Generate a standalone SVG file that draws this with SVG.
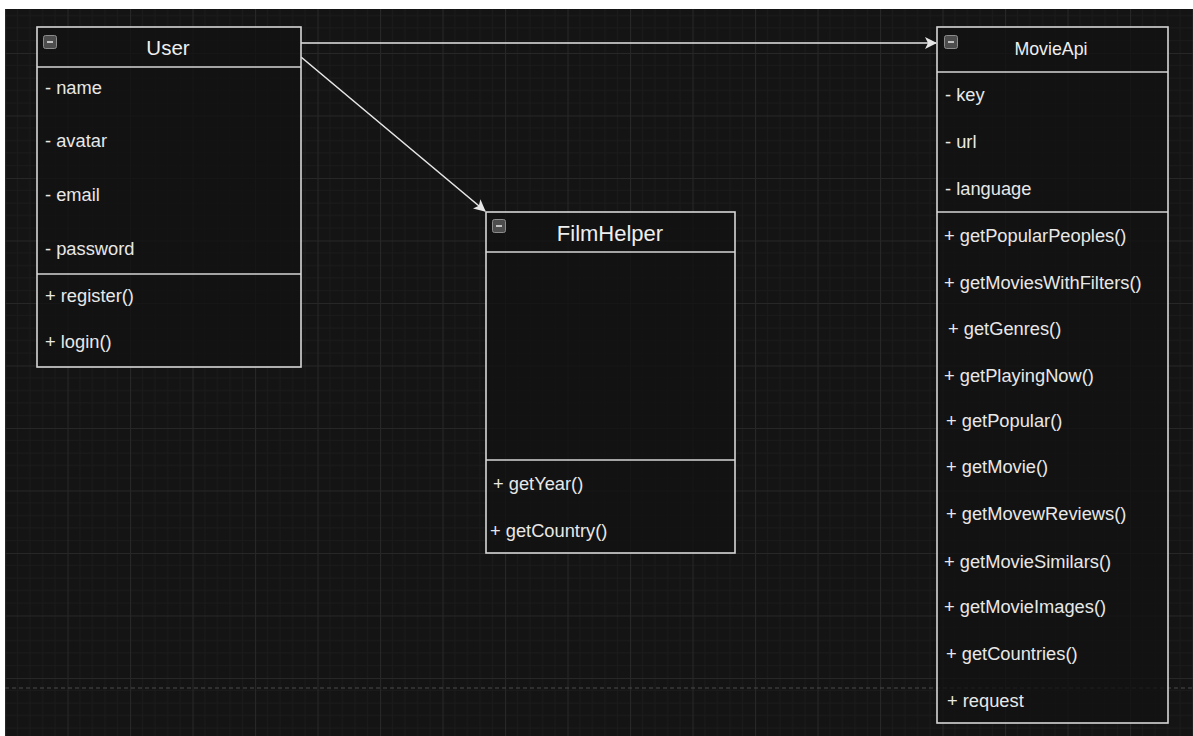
<svg xmlns="http://www.w3.org/2000/svg" width="1193" height="736" viewBox="0 0 1193 736">
<style>
.box{fill:#111111;fill-opacity:0.75;stroke:#d6d6d6;stroke-width:1.6}
.div{stroke:#d6d6d6;stroke-width:1.6}
.t{font-family:"Liberation Sans",Arial,sans-serif;fill:#e8e8e8;font-size:18.3px}
.title{font-family:"Liberation Sans",Arial,sans-serif;fill:#eeeeee;text-anchor:middle}
.icon{fill:#4d4d4d;stroke:#8c8c8c;stroke-width:1}
.minus{stroke:#e0e0e0;stroke-width:1.6}
.conn{stroke:#e6e6e6;stroke-width:1.6;fill:none}
</style>
<defs>
<pattern id="grid" patternUnits="userSpaceOnUse" x="5" y="53" width="62.5" height="62.5">
<rect width="62.5" height="62.5" fill="#141414"/>
<path d="M12.5 0V62.5M25 0V62.5M37.5 0V62.5M50 0V62.5M0 12.5H62.5M0 25H62.5M0 37.5H62.5M0 50H62.5" stroke="#1b1b1b" stroke-width="1"/>
<path d="M0.5 0V62.5M0 0.5H62.5" stroke="#272727" stroke-width="1.2"/>
</pattern>
<marker id="arr" viewBox="0 0 12 12" refX="11" refY="6" markerWidth="12" markerHeight="12" markerUnits="userSpaceOnUse" orient="auto">
<path d="M0 0L12 6L0 12L3 6Z" fill="#e6e6e6"/>
</marker>
</defs>
<rect width="1193" height="736" fill="#ffffff"/>
<rect x="5" y="9" width="1188" height="727" fill="url(#grid)"/>
<line x1="5" y1="688" x2="1193" y2="688" stroke="#4a4a4a" stroke-width="1.2" stroke-dasharray="4 3"/>

<g id="connectors">
<line class="conn" x1="301" y1="43" x2="936" y2="43" marker-end="url(#arr)"/>
<line class="conn" x1="301" y1="57" x2="485" y2="211" marker-end="url(#arr)"/>
</g>

<g id="User">
<rect class="box" x="37" y="27" width="264" height="340"/>
<line class="div" x1="37" y1="67" x2="301" y2="67"/>
<line class="div" x1="37" y1="274" x2="301" y2="274"/>
<rect class="icon" x="43.5" y="35.5" width="13" height="13" rx="2"/>
<line class="minus" x1="47" y1="42" x2="53" y2="42"/>
<text class="title" x="168" y="55" font-size="20.5">User</text>
<text class="t" x="45" y="94">- name</text>
<text class="t" x="45" y="147">- avatar</text>
<text class="t" x="45" y="201">- email</text>
<text class="t" x="45" y="255">- password</text>
<text class="t" x="45" y="302">+ register()</text>
<text class="t" x="45" y="348">+ login()</text>
</g>

<g id="FilmHelper">
<rect class="box" x="486" y="212" width="249" height="341"/>
<line class="div" x1="486" y1="252" x2="735" y2="252"/>
<line class="div" x1="486" y1="460" x2="735" y2="460"/>
<rect class="icon" x="492.5" y="219.5" width="13" height="13" rx="2"/>
<line class="minus" x1="496" y1="226" x2="502" y2="226"/>
<text class="title" x="610" y="241" font-size="22">FilmHelper</text>
<text class="t" x="493" y="490">+ getYear()</text>
<text class="t" x="490" y="537">+ getCountry()</text>
</g>

<g id="MovieApi">
<rect class="box" x="937" y="27" width="231" height="696"/>
<line class="div" x1="937" y1="72" x2="1168" y2="72"/>
<line class="div" x1="937" y1="212" x2="1168" y2="212"/>
<rect class="icon" x="944.5" y="35.5" width="13" height="13" rx="2"/>
<line class="minus" x1="948" y1="42" x2="954" y2="42"/>
<text class="title" x="1051" y="55" font-size="17.8">MovieApi</text>
<text class="t" x="945" y="101">- key</text>
<text class="t" x="945" y="148">- url</text>
<text class="t" x="945" y="195">- language</text>
<text class="t" x="944" y="242">+ getPopularPeoples()</text>
<text class="t" x="944" y="289">+ getMoviesWithFilters()</text>
<text class="t" x="948" y="335">+ getGenres()</text>
<text class="t" x="944" y="382">+ getPlayingNow()</text>
<text class="t" x="946" y="427">+ getPopular()</text>
<text class="t" x="946" y="473">+ getMovie()</text>
<text class="t" x="946" y="520">+ getMovewReviews()</text>
<text class="t" x="944" y="568">+ getMovieSimilars()</text>
<text class="t" x="944" y="613">+ getMovieImages()</text>
<text class="t" x="946" y="660">+ getCountries()</text>
<text class="t" x="947" y="707">+ request</text>
</g>
</svg>
